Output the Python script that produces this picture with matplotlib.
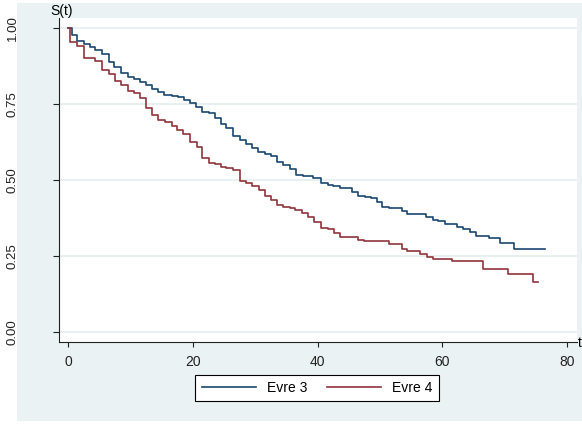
import numpy as np
import matplotlib.pyplot as plt
from matplotlib.patches import Rectangle
from matplotlib.lines import Line2D

plt.rcParams['font.family'] = ['Liberation Sans', 'DejaVu Sans']

# Kaplan-Meier step estimates: time of each drop and survival after it
evre3_t = [0.0, 0.6, 1.5, 2.6, 3.5, 4.4, 5.5, 6.5, 7.4, 8.5, 9.6, 10.6, 11.5,
           12.5, 13.4, 14.4, 15.4, 16.6, 17.7, 18.6, 19.6, 20.5, 21.5, 22.6,
           23.6, 24.5, 25.4, 26.5, 27.5, 28.5, 29.5, 30.5, 31.6, 32.5, 33.5,
           34.5, 35.5, 36.5, 37.6, 39.3, 40.5, 41.6, 42.5, 43.6, 45.5, 46.5,
           47.6, 48.6, 49.5, 50.4, 51.4, 53.5, 54.4, 57.4, 58.5, 59.3, 60.4,
           62.4, 63.3, 64.4, 65.4, 67.4, 69.3, 71.4, 76.4]
evre3_s = [1.000, 0.977, 0.957, 0.946, 0.938, 0.928, 0.913, 0.889, 0.873,
           0.851, 0.840, 0.831, 0.823, 0.813, 0.798, 0.788, 0.781, 0.776,
           0.772, 0.762, 0.754, 0.739, 0.724, 0.719, 0.703, 0.683, 0.672,
           0.645, 0.632, 0.617, 0.604, 0.593, 0.586, 0.580, 0.560, 0.549,
           0.535, 0.516, 0.513, 0.508, 0.489, 0.484, 0.480, 0.473, 0.462,
           0.448, 0.445, 0.442, 0.429, 0.412, 0.407, 0.398, 0.387, 0.379,
           0.368, 0.364, 0.355, 0.344, 0.338, 0.330, 0.316, 0.308, 0.292,
           0.274, 0.274]

evre4_t = [0.0, 0.4, 1.5, 2.5, 4.4, 5.4, 6.5, 7.5, 8.5, 9.6, 10.5, 11.5, 12.5,
           13.5, 14.5, 15.5, 16.6, 17.5, 18.5, 19.6, 20.6, 21.5, 22.6, 23.6,
           24.5, 25.4, 26.5, 27.5, 28.5, 29.5, 30.6, 31.6, 32.5, 33.5, 34.5,
           35.5, 36.4, 37.5, 38.5, 39.5, 40.5, 41.6, 42.6, 43.6, 46.5, 47.5,
           51.4, 53.5, 54.4, 56.4, 57.5, 58.5, 61.5, 66.5, 70.5, 74.5, 75.4]
evre4_s = [1.000, 0.955, 0.942, 0.901, 0.891, 0.863, 0.850, 0.826, 0.813,
           0.793, 0.785, 0.769, 0.736, 0.715, 0.698, 0.690, 0.679, 0.666,
           0.651, 0.626, 0.607, 0.571, 0.557, 0.552, 0.542, 0.538, 0.533,
           0.498, 0.489, 0.480, 0.467, 0.447, 0.434, 0.418, 0.412, 0.409,
           0.401, 0.390, 0.377, 0.363, 0.343, 0.338, 0.327, 0.313, 0.304,
           0.299, 0.288, 0.273, 0.266, 0.257, 0.248, 0.241, 0.234, 0.207,
           0.191, 0.165, 0.165]

group_names = ['Evre 3', 'Evre 4']
group_colors = ['#1a476f', '#90353b']

y_ticks = [0.0, 0.25, 0.5, 0.75, 1.0]
y_labels = ['0.00', '0.25', '0.50', '0.75', '1.00']
x_ticks = [0, 20, 40, 60, 80]

W, H = 582, 425
fig = plt.figure(figsize=(W / 100, H / 100), dpi=100)
fig.patch.set_facecolor('white')
fig.add_artist(Rectangle((17 / W, 4 / H), 565 / W, 418 / H,
                         transform=fig.transFigure, facecolor='#eaf2f3',
                         edgecolor='none', zorder=0))

ax = fig.add_axes([59 / W, 83 / H, 518 / W, 324 / H])
ax.set_facecolor('white')

for t, s, c in [(evre3_t, evre3_s, group_colors[0]),
                (evre4_t, evre4_s, group_colors[1])]:
    ax.step(t, s, where='post', color=c, lw=1.2, zorder=3)

ax.set_xlim(-1.44, 81.57)
ax.set_ylim(-0.033, 1.033)

for y in y_ticks:
    ax.axhline(y, color='#e4eef0', lw=1.2, zorder=1)

ax.set_yticks(y_ticks)
ax.set_yticklabels(y_labels, rotation=90, va='center', fontsize=9.5)
ax.set_xticks(x_ticks)
ax.set_xticklabels([str(v) for v in x_ticks], fontsize=10)
ax.tick_params(axis='y', length=4.3, width=0.8, pad=24.5, colors='#222222')
ax.tick_params(axis='x', length=3.6, width=0.8, pad=6, colors='#222222')

for side in ['top', 'right']:
    ax.spines[side].set_visible(False)
for side in ['left', 'bottom']:
    ax.spines[side].set_color('#222222')
    ax.spines[side].set_linewidth(0.8)

fig.text(50 / W, 1 - 11 / H, 'S(t)', fontsize=10, ha='left', va='center')
fig.text(578 / W, 1 - 343 / H, 't', fontsize=10, ha='left', va='center')

handles = [Line2D([], [], color=c, lw=1.2) for c in group_colors]
leg = fig.legend(handles, group_names, loc='center', ncol=2,
                 bbox_to_anchor=(317 / W, 1 - 388 / H), fontsize=10,
                 frameon=True, fancybox=False, handlelength=3.9,
                 handletextpad=0.8, columnspacing=1.4, borderpad=0.45)
leg.get_frame().set_edgecolor('black')
leg.get_frame().set_linewidth(0.8)
leg.get_frame().set_facecolor('white')
leg.get_frame().set_alpha(1)

fig.savefig('out.png', dpi=100)
